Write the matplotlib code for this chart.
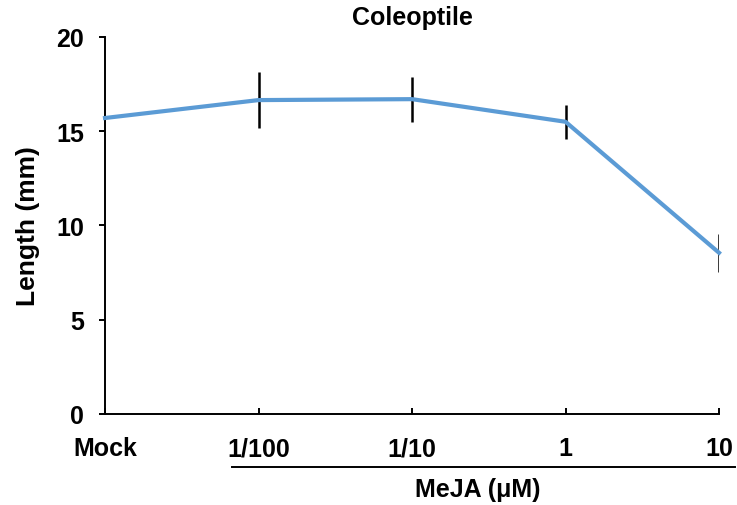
import matplotlib.pyplot as plt

# coleoptile length vs MeJA concentration
doses = ["Mock", "1/100", "1/10", "1", "10"]
length = [15.7, 16.65, 16.7, 15.5, 8.55]
err = [0.0, 1.5, 1.2, 0.9, 1.0]

plt.rcParams["font.family"] = ["Liberation Sans", "DejaVu Sans"]
plt.rcParams["font.weight"] = "bold"

fig = plt.figure(figsize=(7.37, 5.06), dpi=100)
ax = fig.add_axes([0.1425, 0.18, 0.8331, 0.745])

x = list(range(len(doses)))
ax.errorbar(x[1:], length[1:], yerr=err[1:], fmt="none", ecolor="black",
            elinewidth=1.8, capsize=0, zorder=2)
ax.plot(x, length, color="#5B9BD5", linewidth=3.0, zorder=3, clip_on=False)

ax.set_xlim(0, 4)
ax.set_ylim(0, 20)
ax.set_yticks([0, 5, 10, 15, 20])
ax.set_xticks(x)
ax.set_xticklabels(doses)

for s in ["top", "right"]:
    ax.spines[s].set_visible(False)
for s in ["left", "bottom"]:
    ax.spines[s].set_linewidth(1.4)

ax.tick_params(axis="y", direction="out", length=4, width=1.4, labelsize=18, pad=11)
ax.tick_params(axis="x", direction="in", length=4, width=1.4, labelsize=18, pad=16)

ax.set_title("Coleoptile", fontsize=18, fontweight="bold", pad=9)
ax.set_ylabel("Length (mm)", fontsize=19, fontweight="bold", labelpad=12)

# bracket line for MeJA doses
ax.plot([0.207, 1.026], [-0.141, -0.141], transform=ax.transAxes,
        color="black", linewidth=1.4, clip_on=False)
ax.text(0.607, -0.199, "MeJA (μM)", transform=ax.transAxes, ha="center",
        va="center", fontsize=18, fontweight="bold")

fig.savefig("out.png", dpi=100)
